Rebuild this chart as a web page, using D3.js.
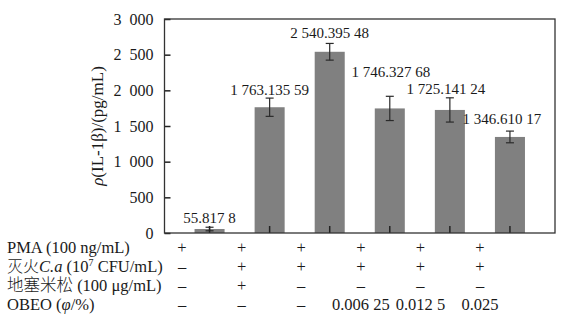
<!DOCTYPE html>
<html><head><meta charset="utf-8">
<script src="https://cdn.jsdelivr.net/npm/d3@7"></script>
<style>
body{margin:0;background:#fff;}
text{font-family:"Liberation Serif","Times New Roman",serif;fill:#1a1a1a;}
</style></head>
<body><svg id="c" width="567" height="326"></svg>
<script>
// ---- data ----
const groups = ["G1","G2","G3","G4","G5","G6"];
const values = [55.8178, 1763.13559, 2540.39548, 1746.32768, 1725.14124, 1346.61017];
const errors = [25, 128, 117, 170, 170, 82];
const valueLabels = ["55.817 8","1 763.135 59","2 540.395 48","1 746.327 68","1 725.141 24","1 346.610 17"];
const yTicks = [0, 500, 1000, 1500, 2000, 2500, 3000];
const rowPMA = ["+","+","+","+","+","+"];
const rowCa = ["–","+","+","+","+","+"];
const rowDex = ["–","+","–","–","–","–"];
const rowOBEO = ["–","–","–","0.006 25","0.012 5","0.025"];

// ---- layout ----
const W = 567, H = 326;
const m = {l:164.5, t:19, r:12, b:93};
const labelDy = [4, 3.5, 5, 19.5, 4, 7.5];
const labelDx = [0, 0, 0, 1, -4, -8];
const svg = d3.select("#c");

const x = d3.scaleBand().domain(groups).range([m.l, W - m.r]).padding(0.5);
const y = d3.scaleLinear().domain([0, 3000]).range([H - m.b, m.t]);
const fmt = d3.formatLocale({decimal:".", thousands:"\u2002", grouping:[3], currency:["",""]}).format(",d");

// bars
svg.append("g").selectAll("rect").data(values).join("rect")
  .attr("x", (d,i) => x(groups[i]))
  .attr("width", x.bandwidth())
  .attr("y", d => y(d))
  .attr("height", d => y(0) - y(d))
  .attr("fill", "#808080");

// error bars
const eb = svg.append("g").attr("stroke", "#2a2a2a").attr("stroke-width", 1.2);
values.forEach((v,i) => {
  const cx = x(groups[i]) + x.bandwidth()/2;
  eb.append("line").attr("x1", cx).attr("x2", cx).attr("y1", y(v + errors[i])).attr("y2", y(Math.max(0, v - errors[i])));
  eb.append("line").attr("x1", cx-4).attr("x2", cx+4).attr("y1", y(v + errors[i])).attr("y2", y(v + errors[i]));
  if (v - errors[i] > 0)
    eb.append("line").attr("x1", cx-4).attr("x2", cx+4).attr("y1", y(v - errors[i])).attr("y2", y(v - errors[i]));
});

// value labels
svg.append("g").selectAll("text").data(valueLabels).join("text")
  .attr("x", (d,i) => x(groups[i]) + x.bandwidth()/2 + labelDx[i])
  .attr("y", (d,i) => y(values[i] + errors[i]) - labelDy[i])
  .attr("text-anchor", "middle")
  .style("font-size", "15px")
  .text(d => d);

// axes
const yAxis = d3.axisLeft(y).tickValues(yTicks).tickFormat(fmt).tickSize(-6).tickPadding(11);
const gy = svg.append("g").attr("transform", `translate(${m.l},0)`).call(yAxis);
gy.select(".domain").remove();
gy.selectAll(".tick line").attr("stroke", "#222").attr("stroke-width", 1.5);
gy.selectAll(".tick text").style("font-size", "16px").style("font-family", "Liberation Serif").attr("fill", "#1a1a1a");

const xAxis = d3.axisBottom(x).tickSize(-7).tickFormat("");
const gx = svg.append("g").attr("transform", `translate(0,${H - m.b})`).call(xAxis);
gx.select(".domain").remove();
gx.selectAll(".tick line").attr("stroke", "#222").attr("stroke-width", 1.5);

// frame
svg.append("rect").attr("x", m.l).attr("y", m.t).attr("width", W - m.r - m.l).attr("height", H - m.b - m.t)
  .attr("fill", "none").attr("stroke", "#333").attr("stroke-width", 1.3);

// y title
const yt = svg.append("text").attr("transform", `translate(103,${(m.t + H - m.b)/2}) rotate(-90)`)
  .attr("text-anchor", "middle").style("font-size", "17px");
yt.append("tspan").style("font-style", "italic").text("ρ");
yt.append("tspan").text("(IL-1β)/(pg/mL)");

// table
const tx = d3.scalePoint().domain(groups).range([182, 480]);
const rows = [rowPMA, rowCa, rowDex, rowOBEO];
const rowY = [253, 272, 291, 310];
const lab = svg.append("g").style("font-size", "16.5px");
lab.append("text").attr("x", 7).attr("y", rowY[0]).text("PMA (100 ng/mL)");
const l2 = lab.append("text").attr("x", 7).attr("y", rowY[1]);
l2.append("tspan").text("灭火").style("font-family", "Noto Sans CJK SC").style("font-weight", "300").style("font-size", "16px");
l2.append("tspan").style("font-style", "italic").text("C.a");
l2.append("tspan").text(" (10");
l2.append("tspan").attr("dy", -6).style("font-size", "10px").text("7");
l2.append("tspan").attr("dy", 6).text(" CFU/mL)");
const l3 = lab.append("text").attr("x", 7).attr("y", rowY[2]);
l3.append("tspan").text("地塞米松").style("font-family", "Noto Sans CJK SC").style("font-weight", "300");
l3.append("tspan").text(" (100 μg/mL)");
const l4 = lab.append("text").attr("x", 7).attr("y", rowY[3]);
l4.append("tspan").text("OBEO (");
l4.append("tspan").style("font-style", "italic").text("φ");
l4.append("tspan").text("/%)");

rows.forEach((r, ri) => {
  svg.append("g").selectAll("text").data(r).join("text")
    .attr("x", (d,i) => tx(groups[i]))
    .attr("y", rowY[ri])
    .attr("text-anchor", "middle")
    .style("font-size", "16.5px")
    .text(d => d);
});
</script></body></html>
